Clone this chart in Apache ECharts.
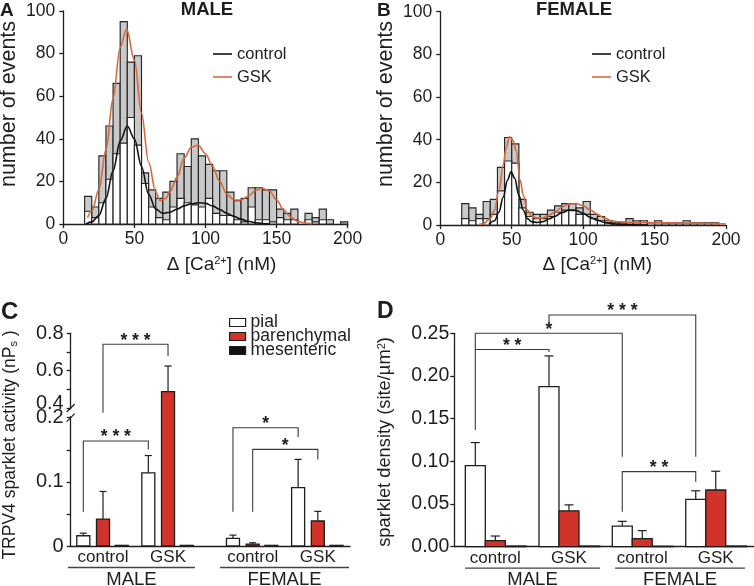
<!DOCTYPE html>
<html>
<head>
<meta charset="utf-8">
<title>TRPV4 sparklets</title>
<script src="https://cdn.jsdelivr.net/npm/echarts@6.0.0/dist/echarts.min.js"></script>
<style>
html,body{margin:0;padding:0;background:#ffffff;}
#chart{width:754px;height:586px;}
</style>
</head>
<body>
<div id="chart"></div>
<script>
// ================= DATA =================
// Histograms (5 nM bins, bin start values)
const binStartsNM = [15,20,25,30,35,40,45,50,55,60,65,70,75,80,85,90,95,100,105,110,115,120,125,130,135,140,145,150,155,160,165,170,175,180,185,190,195];
const binWidthNM = 5;
const maleGSKCounts       = [13,8,32,46,66,95,76,79,24,16,12,15,20,33,27,40,32,28,25,25,15,11,12,17,17,16,16,7,5,7,0,5,3,7,2,0,1];
const maleControlCounts   = [6,3,10,21,33,38,50,37,19,8,3,2,8,12,10,9,8,12,5,4,4,2,1,8,2,2,1,3,2,2,0,2,1,2,0,0,0];
const femaleGSKCounts     = [10,8,5,11,12,27,41,38,12,6,5,5,7,9,10,10,8,11,5,4,2,1,1,3,2,2,1,2,1,1,1,2,1,1,1,1,0];
const femaleControlCounts = [3,2,3,3,5,16,30,29,8,4,3,3,4,6,7,7,5,5,3,2,1,0,0,1,1,0,1,0,0,0,0,0,0,0,0,0,0];

// Fitted curves ([nM, events])
const maleControlFit = [[16,0],[20,1],[25,4],[30,12],[35,25],[40,39],[45,46],[50,40],[55,27],[60,14],[65,7],[70,5],[75,5.5],[80,7],[85,8.5],[90,9.5],[95,10],[100,9.7],[105,8.5],[110,6.8],[115,5],[120,3.5],[125,2.3],[130,1.3],[135,0.6],[140,0.2],[145,0]];
const maleGSKFit = [[17,3],[20,6],[25,16],[30,35],[35,59],[40,83],[44.5,91.5],[50,77],[55,52],[60,29],[65,15],[68,11],[72,12],[75,15],[80,22],[85,31],[90,36],[95,37],[100,33],[105,27],[110,20],[115,14],[120,11.3],[125,11.3],[130,13],[135,15.7],[140,16.8],[145,15.5],[150,11.3],[155,6.6],[160,3.2],[165,1.2],[170,0.4],[175,0.1]];
const femaleControlFit = [[34,0.3],[38,2],[41,6],[44,13],[47,21],[49.5,25],[52,22],[55,14],[58,7],[61,3],[64,1.5],[68,1.2],[72,1.6],[76,2.8],[80,4],[85,5.8],[90,6.9],[95,6.8],[100,5.5],[105,3.6],[110,2.2],[115,1.2],[120,0.6],[125,0.3],[135,0.1],[145,0]];
const femaleGSKFit = [[27,0.2],[30,0.6],[35,3],[38,7],[41,16],[44,28],[46,36],[48.5,41.5],[51,39.5],[53,35],[56,21],[58,14],[61,7],[64,4.2],[67,3.3],[71,3.2],[75,4.2],[80,6],[85,8.3],[90,9.8],[95,10.1],[100,9],[105,7],[110,5],[115,3.2],[120,2],[125,1.5],[135,1.2],[150,1.1],[175,0.9],[200,0.5]];

// Bar charts: groups
const barGroups = ['control','GSK','control','GSK'];
const barSexes  = ['MALE','FEMALE'];
const vesselTypes = ['pial','parenchymal','mesenteric'];
// C: TRPV4 sparklet activity (nPs)
const activityPial      = [0.016, 0.114, 0.012, 0.091];
const activityPialErr   = [0.004, 0.027, 0.005, 0.044];
const activityParen     = [0.042, 0.488, 0.003, 0.039];
const activityParenErr  = [0.043, 0.137, 0.002, 0.015];
const activityMes       = [0.001, 0.001, 0.001, 0.001];
const activityMesErr    = [0, 0, 0, 0];
// D: sparklet density (site/um2)
const densityPial      = [0.095, 0.1875, 0.0242, 0.0555];
const densityPialErr   = [0.027, 0.036, 0.0055, 0.010];
const densityParen     = [0.007, 0.042, 0.0094, 0.0664];
const densityParenErr  = [0.0055, 0.007, 0.0094, 0.022];
const densityMes       = [0.0008, 0.0008, 0.0005, 0.0008];
const densityMesErr    = [0, 0, 0, 0];

// Axis ticks
const histXTicks = [0, 200, 50];      // min, max, interval
const histYTicks = [0, 100, 20];
const cTickValues  = [0, 0.05, 0.1, 0.15, 0.2, 0.4, 0.5, 0.6, 0.7, 0.8];
const cLabelValues = [0, 0.1, 0.2, 0.4, 0.6, 0.8];
const dTicks = [0, 0.25, 0.05];

// Significance brackets (from/to = [group, vessel])
const cBrackets = [
  {from:[0,1], to:[1,1], top:0.741, leftEnd:0.30, rightEnd:0.679, stars:'* * *'},
  {from:[0,0], to:[1,0], top:0.1636, leftEnd:0.0535, rightEnd:0.1506, stars:'* * *'},
  {from:[2,0], to:[3,0], top:0.1844, leftEnd:0.0535, rightEnd:0.170, stars:'*'},
  {from:[2,1], to:[3,1], top:0.1506, leftEnd:0.0535, rightEnd:0.135, stars:'*'}
];
const dBrackets = [
  {from:[0,0], to:[1,0], top:0.231, leftEnd:0.1367, rightEnd:0.228, stars:'* *'},
  {from:[0,0], to:[2,0], top:0.25, leftEnd:0.231, rightEnd:0.1055, stars:'*'},
  {from:[1,0], to:[3,0], top:0.2715, leftEnd:0.262, rightEnd:0.1055, stars:'* * *'},
  {from:[2,0], to:[3,0], top:0.0879, leftEnd:0.041, rightEnd:0.0762, stars:'* *'}
];

// ================= STYLE / LAYOUT =================
const FONT = '"Liberation Sans", Arial, Helvetica, sans-serif';
const INK = '#1e1e1e';
const GREY = '#c9c9c9', RED = '#cf3329', ORANGE = '#d8693b', BLACKBAR = '#111111';
const AXIS_W = 1.3;

const C_LAYOUT = {xMax:14.32, centers:[1.656,4.99,9.33,12.67], offsets:[-1.01,0,0.96], barW:0.667, capPx:7, sexSpans:[[-0.14,6.37],[7.66,14.27]]};
const D_LAYOUT = {xMax:14.75, centers:[2.02,5.65,9.26,12.88], offsets:[-0.985,0,1.02], barW:0.985, capPx:9, sexSpans:[[0.53,7.18],[7.92,14.32]]};

// Broken y axis of panel C (0-0.2 and 0.4-0.8 with different scales)
const C_BREAK_LO = 0.2, C_BREAK_HI = 0.4, C_GAP = 0.0151, C_UPPER_SCALE = 0.2911;
function cDisp(v){
  if (v <= C_BREAK_LO) return v;
  if (v >= C_BREAK_HI) return C_BREAK_LO + C_GAP + (v - C_BREAK_HI) * C_UPPER_SCALE;
  return C_BREAK_LO + (v - C_BREAK_LO) / (C_BREAK_HI - C_BREAK_LO) * C_GAP;
}
function cTrue(d){
  if (d <= C_BREAK_LO + 1e-9) return d;
  return C_BREAK_HI + (d - C_BREAK_LO - C_GAP) / C_UPPER_SCALE;
}
const C_MAX = cDisp(0.8);
const ident = v => v;

function groupLabel(v, layout){
  let best = 0, bd = 1e9;
  layout.centers.forEach((c,i)=>{ const d = Math.abs(c - v); if (d < bd){bd = d; best = i;} });
  return barGroups[best];
}
function barX(layout, fromTo){ return layout.centers[fromTo[0]] + layout.offsets[fromTo[1]]; }

const axisLineStyle = {show:true, lineStyle:{color:INK, width:AXIS_W}};
const axisTickStyle = {show:true, length:4, lineStyle:{color:INK, width:AXIS_W}};

function histAxisX(grid){
  return {gridIndex:grid, type:'value', min:histXTicks[0], max:histXTicks[1], interval:histXTicks[2],
    axisLine:axisLineStyle, axisTick:axisTickStyle, splitLine:{show:false},
    axisLabel:{color:INK, fontFamily:FONT, fontSize:17.5, margin:6}};
}
function histAxisY(grid){
  return {gridIndex:grid, type:'value', min:histYTicks[0], max:histYTicks[1], interval:histYTicks[2],
    axisLine:axisLineStyle, axisTick:axisTickStyle, splitLine:{show:false},
    axisLabel:{color:INK, fontFamily:FONT, fontSize:17.5, margin:8}};
}

function histSeries(name, counts, fill, idx, z){
  return {type:'custom', name:name, xAxisIndex:idx, yAxisIndex:idx, z:z, silent:true,
    data: binStartsNM.map((s,i)=>[s, s + binWidthNM, counts[i]]),
    encode:{x:[0,1], y:2},
    renderItem:(params, api)=>{
      const v = api.value(2);
      if (!v) return null;
      const p0 = api.coord([api.value(0), v]);
      const p1 = api.coord([api.value(1), 0]);
      return {type:'rect', shape:{x:p0[0], y:p0[1], width:p1[0]-p0[0], height:p1[1]-p0[1]},
        style:{fill:fill, stroke:'#262626', lineWidth:1.15}};
    }};
}
function fitSeries(name, data, color, idx){
  return {type:'line', name:name, xAxisIndex:idx, yAxisIndex:idx, z:4, data:data, smooth:0.35,
    smoothMonotone:'x', showSymbol:false, symbol:'none', silent:true,
    lineStyle:{color:color, width:1.6}, itemStyle:{color:color}};
}
function barSeries(name, values, errs, vIdx, layout, idx, fill, mapY){
  return {type:'custom', name:name, xAxisIndex:idx, yAxisIndex:idx, z:3, silent:true,
    itemStyle:{color:fill, borderColor:INK},
    data: values.map((v,g)=>[layout.centers[g] + layout.offsets[vIdx], mapY(v), mapY(v + errs[g])]),
    encode:{x:0, y:[1,2]},
    renderItem:(params, api)=>{
      const x = api.value(0), top = api.value(1), et = api.value(2), half = layout.barW/2;
      const p0 = api.coord([x - half, top]);
      const p1 = api.coord([x + half, 0]);
      const pt = api.coord([x, top]);
      const pe = api.coord([x, et]);
      const children = [];
      if (pe[1] < pt[1] - 0.5){
        children.push({type:'line', shape:{x1:pt[0], y1:pt[1], x2:pe[0], y2:pe[1]}, style:{stroke:INK, lineWidth:1.2}});
        children.push({type:'line', shape:{x1:pe[0]-layout.capPx/2, y1:pe[1], x2:pe[0]+layout.capPx/2, y2:pe[1]}, style:{stroke:INK, lineWidth:1.2}});
      }
      children.push({type:'rect', shape:{x:p0[0], y:p0[1], width:p1[0]-p0[0], height:p1[1]-p0[1]},
        style:{fill:fill, stroke:INK, lineWidth:1.3}});
      return {type:'group', children:children};
    }};
}
function bracketSeries(brackets, layout, idx, mapY){
  return {type:'custom', xAxisIndex:idx, yAxisIndex:idx, z:6, silent:true, clip:false,
    data: brackets.map(b=>[barX(layout,b.from), barX(layout,b.to), mapY(b.top), mapY(b.leftEnd), mapY(b.rightEnd)]),
    encode:{x:[0,1], y:[2,3,4]},
    renderItem:(params, api)=>{
      const b = brackets[params.dataIndex];
      const x1 = api.value(0), x2 = api.value(1), t = api.value(2), l = api.value(3), r = api.value(4);
      const pL = api.coord([x1,l]), pTL = api.coord([x1,t]), pTR = api.coord([x2,t]), pR = api.coord([x2,r]);
      return {type:'group', children:[
        {type:'polyline', shape:{points:[pL,pTL,pTR,pR]}, style:{stroke:'#3a3a3a', lineWidth:1.1, fill:null}},
        {type:'text', x:(pTL[0]+pTR[0])/2, y:pTL[1]-3.5,
          style:{text:b.stars, fontFamily:FONT, fontSize:17.5, fontWeight:'bold', fill:INK,
            align:'center', verticalAlign:'middle', textAlign:'center', textVerticalAlign:'middle'}}
      ]};
    }};
}

const option = {
  animation:false,
  backgroundColor:'#ffffff',
  textStyle:{fontFamily:FONT},
  grid:[
    {left:63.3, top:11, width:284.4, height:213},
    {left:440.3, top:11.7, width:285.7, height:213.3},
    {left:70.7, top:333.3, width:279.3, height:212.7},
    {left:454.3, top:333.3, width:299.4, height:213.4}
  ],
  xAxis:[
    histAxisX(0), histAxisX(1),
    {gridIndex:2, type:'value', min:0, max:C_LAYOUT.xMax, axisLine:axisLineStyle, axisTick:{show:false}, splitLine:{show:false},
      axisLabel:{customValues:C_LAYOUT.centers, formatter:v=>groupLabel(v, C_LAYOUT), color:INK, fontFamily:FONT, fontSize:17, margin:3}},
    {gridIndex:3, type:'value', min:0, max:D_LAYOUT.xMax, axisLine:axisLineStyle, axisTick:{show:false}, splitLine:{show:false},
      axisLabel:{customValues:D_LAYOUT.centers, formatter:v=>groupLabel(v, D_LAYOUT), color:INK, fontFamily:FONT, fontSize:17, margin:3}}
  ],
  yAxis:[
    histAxisY(0), histAxisY(1),
    {gridIndex:2, type:'value', min:0, max:C_MAX, axisLine:axisLineStyle, splitLine:{show:false},
      axisTick:{show:true, length:4, lineStyle:{color:INK, width:AXIS_W}, customValues:cTickValues.map(cDisp)},
      axisLabel:{customValues:cLabelValues.map(cDisp), color:INK, fontFamily:FONT, fontSize:20, margin:7,
        rich:{up:{fontFamily:FONT, fontSize:20, color:INK, padding:[0,0,10,0]}},
        formatter:d=>{ const v = Math.round(cTrue(d)*10)/10;
          if (v === 0) return '0';
          return v === C_BREAK_HI ? '{up|' + v.toFixed(1) + '}' : v.toFixed(1); }}},
    {gridIndex:3, type:'value', min:dTicks[0], max:dTicks[1], interval:dTicks[2], axisLine:axisLineStyle, splitLine:{show:false},
      axisTick:axisTickStyle,
      axisLabel:{color:INK, fontFamily:FONT, fontSize:19.5, margin:5, formatter:v=>v.toFixed(2)}}
  ],
  legend:[
    {data:['control','GSK'], left:208, top:40, orient:'vertical', icon:'rect', itemWidth:19, itemHeight:1.6, itemGap:5,
      selectedMode:false, textStyle:{fontFamily:FONT, fontSize:16.5, color:INK, lineHeight:18}},
    {data:['control','GSK'], left:587, top:40, orient:'vertical', icon:'rect', itemWidth:19, itemHeight:1.6, itemGap:5,
      selectedMode:false, textStyle:{fontFamily:FONT, fontSize:16.5, color:INK, lineHeight:18}},
    {data:[
        {name:'pial', itemStyle:{color:'#ffffff', borderColor:INK, borderWidth:1.2}},
        {name:'parenchymal', itemStyle:{color:RED, borderColor:INK, borderWidth:1.2}},
        {name:'mesenteric', itemStyle:{color:BLACKBAR, borderColor:INK, borderWidth:1.2}}],
      left:224, top:308.5, orient:'vertical', icon:'rect', itemWidth:16, itemHeight:8, itemGap:-4,
      selectedMode:false, textStyle:{fontFamily:FONT, fontSize:17.5, color:INK, lineHeight:14.5}}
  ],
  series:[
    histSeries('GSK events (male)', maleGSKCounts, GREY, 0, 1),
    histSeries('control events (male)', maleControlCounts, '#ffffff', 0, 2),
    fitSeries('GSK', maleGSKFit, ORANGE, 0),
    fitSeries('control', maleControlFit, '#111111', 0),
    histSeries('GSK events (female)', femaleGSKCounts, GREY, 1, 1),
    histSeries('control events (female)', femaleControlCounts, '#ffffff', 1, 2),
    fitSeries('GSK', femaleGSKFit, ORANGE, 1),
    fitSeries('control', femaleControlFit, '#111111', 1),
    barSeries('pial', activityPial, activityPialErr, 0, C_LAYOUT, 2, '#ffffff', cDisp),
    barSeries('parenchymal', activityParen, activityParenErr, 1, C_LAYOUT, 2, RED, cDisp),
    barSeries('mesenteric', activityMes, activityMesErr, 2, C_LAYOUT, 2, BLACKBAR, cDisp),
    bracketSeries(cBrackets, C_LAYOUT, 2, cDisp),
    barSeries('pial', densityPial, densityPialErr, 0, D_LAYOUT, 3, '#ffffff', ident),
    barSeries('parenchymal', densityParen, densityParenErr, 1, D_LAYOUT, 3, RED, ident),
    barSeries('mesenteric', densityMes, densityMesErr, 2, D_LAYOUT, 3, BLACKBAR, ident),
    bracketSeries(dBrackets, D_LAYOUT, 3, ident)
  ]
};

const chart = echarts.init(document.getElementById('chart'), null, {renderer:'canvas'});
chart.setOption(option);

// ================= DECORATIONS =================
function txt(x, y, text, size, opts){
  opts = opts || {};
  return {type:'text', x:x, y:y, rotation:opts.rotation || 0, silent:true, z:10,
    style:Object.assign({text:text, fontFamily:FONT, fontSize:size, fontWeight:opts.bold ? 'bold' : 'normal', fill:INK,
      align:opts.align || 'center', verticalAlign:opts.valign || 'middle',
      textAlign:opts.align || 'center', textVerticalAlign:opts.valign || 'middle'}, opts.rich ? {rich:opts.rich} : {})};
}
const supRich = {sup:{fontSize:11, fontFamily:FONT, fill:INK, verticalAlign:'top', padding:[0,0,0,0]}};
const subRich = {sub:{fontSize:11, fontFamily:FONT, fill:INK, verticalAlign:'bottom'}};

const graphics = [
  txt(0, 1, 'A', 19, {bold:true, align:'left', valign:'top'}),
  txt(377, 1, 'B', 19, {bold:true, align:'left', valign:'top'}),
  txt(1, 300.5, 'C', 24, {bold:true, align:'left', valign:'top'}),
  txt(377, 300.5, 'D', 23, {bold:true, align:'left', valign:'top'}),
  txt(207, 9.5, 'MALE', 18.5, {bold:true}),
  txt(574, 9.5, 'FEMALE', 18.5, {bold:true}),
  txt(9.5, 104, 'number of events', 21.5, {rotation:Math.PI/2}),
  txt(386.5, 104, 'number of events', 21.5, {rotation:Math.PI/2}),
  txt(221.5, 264.5, 'Δ [Ca{sup|2+}] (nM)', 19, {rich:supRich}),
  txt(597.3, 264.5, 'Δ [Ca{sup|2+}] (nM)', 19, {rich:supRich}),
  txt(10.5, 445, 'TRPV4 sparklet activity (nP{sub|s} )', 17.5, {rotation:Math.PI/2, rich:subRich}),
  txt(385, 442, 'sparklet density (site/µm{sup|2})', 18.3, {rotation:Math.PI/2, rich:supRich})
];

function sexDecor(layout, axisIdx){
  const out = [];
  layout.sexSpans.forEach((span, i)=>{
    const xa = chart.convertToPixel({xAxisIndex:axisIdx}, span[0]);
    const xb = chart.convertToPixel({xAxisIndex:axisIdx}, span[1]);
    const y0 = chart.convertToPixel({yAxisIndex:axisIdx}, 0);
    out.push({type:'line', silent:true, z:10, shape:{x1:xa, y1:y0+21.5, x2:xb, y2:y0+21.5}, style:{stroke:'#444', lineWidth:1.3}});
    out.push(txt((xa+xb)/2, y0+24, barSexes[i], 18.5, {valign:'top'}));
  });
  return out;
}
graphics.push(...sexDecor(C_LAYOUT, 2), ...sexDecor(D_LAYOUT, 3));

// axis break marks on C
(function(){
  const ax = chart.convertToPixel({xAxisIndex:2}, 0);
  const yLo = chart.convertToPixel({yAxisIndex:2}, cDisp(C_BREAK_LO));
  const yHi = chart.convertToPixel({yAxisIndex:2}, cDisp(C_BREAK_HI));
  graphics.push({type:'rect', silent:true, z:9, shape:{x:ax-3, y:yHi+1.5, width:6, height:yLo-yHi-3}, style:{fill:'#ffffff'}});
  graphics.push({type:'line', silent:true, z:10, shape:{x1:ax-4, y1:yHi+4, x2:ax+4, y2:yHi-4}, style:{stroke:INK, lineWidth:1.2}});
  graphics.push({type:'line', silent:true, z:10, shape:{x1:ax-4, y1:yLo+4, x2:ax+4, y2:yLo-4}, style:{stroke:INK, lineWidth:1.2}});
})();

chart.setOption({graphic:graphics});
</script>
</body>
</html>
